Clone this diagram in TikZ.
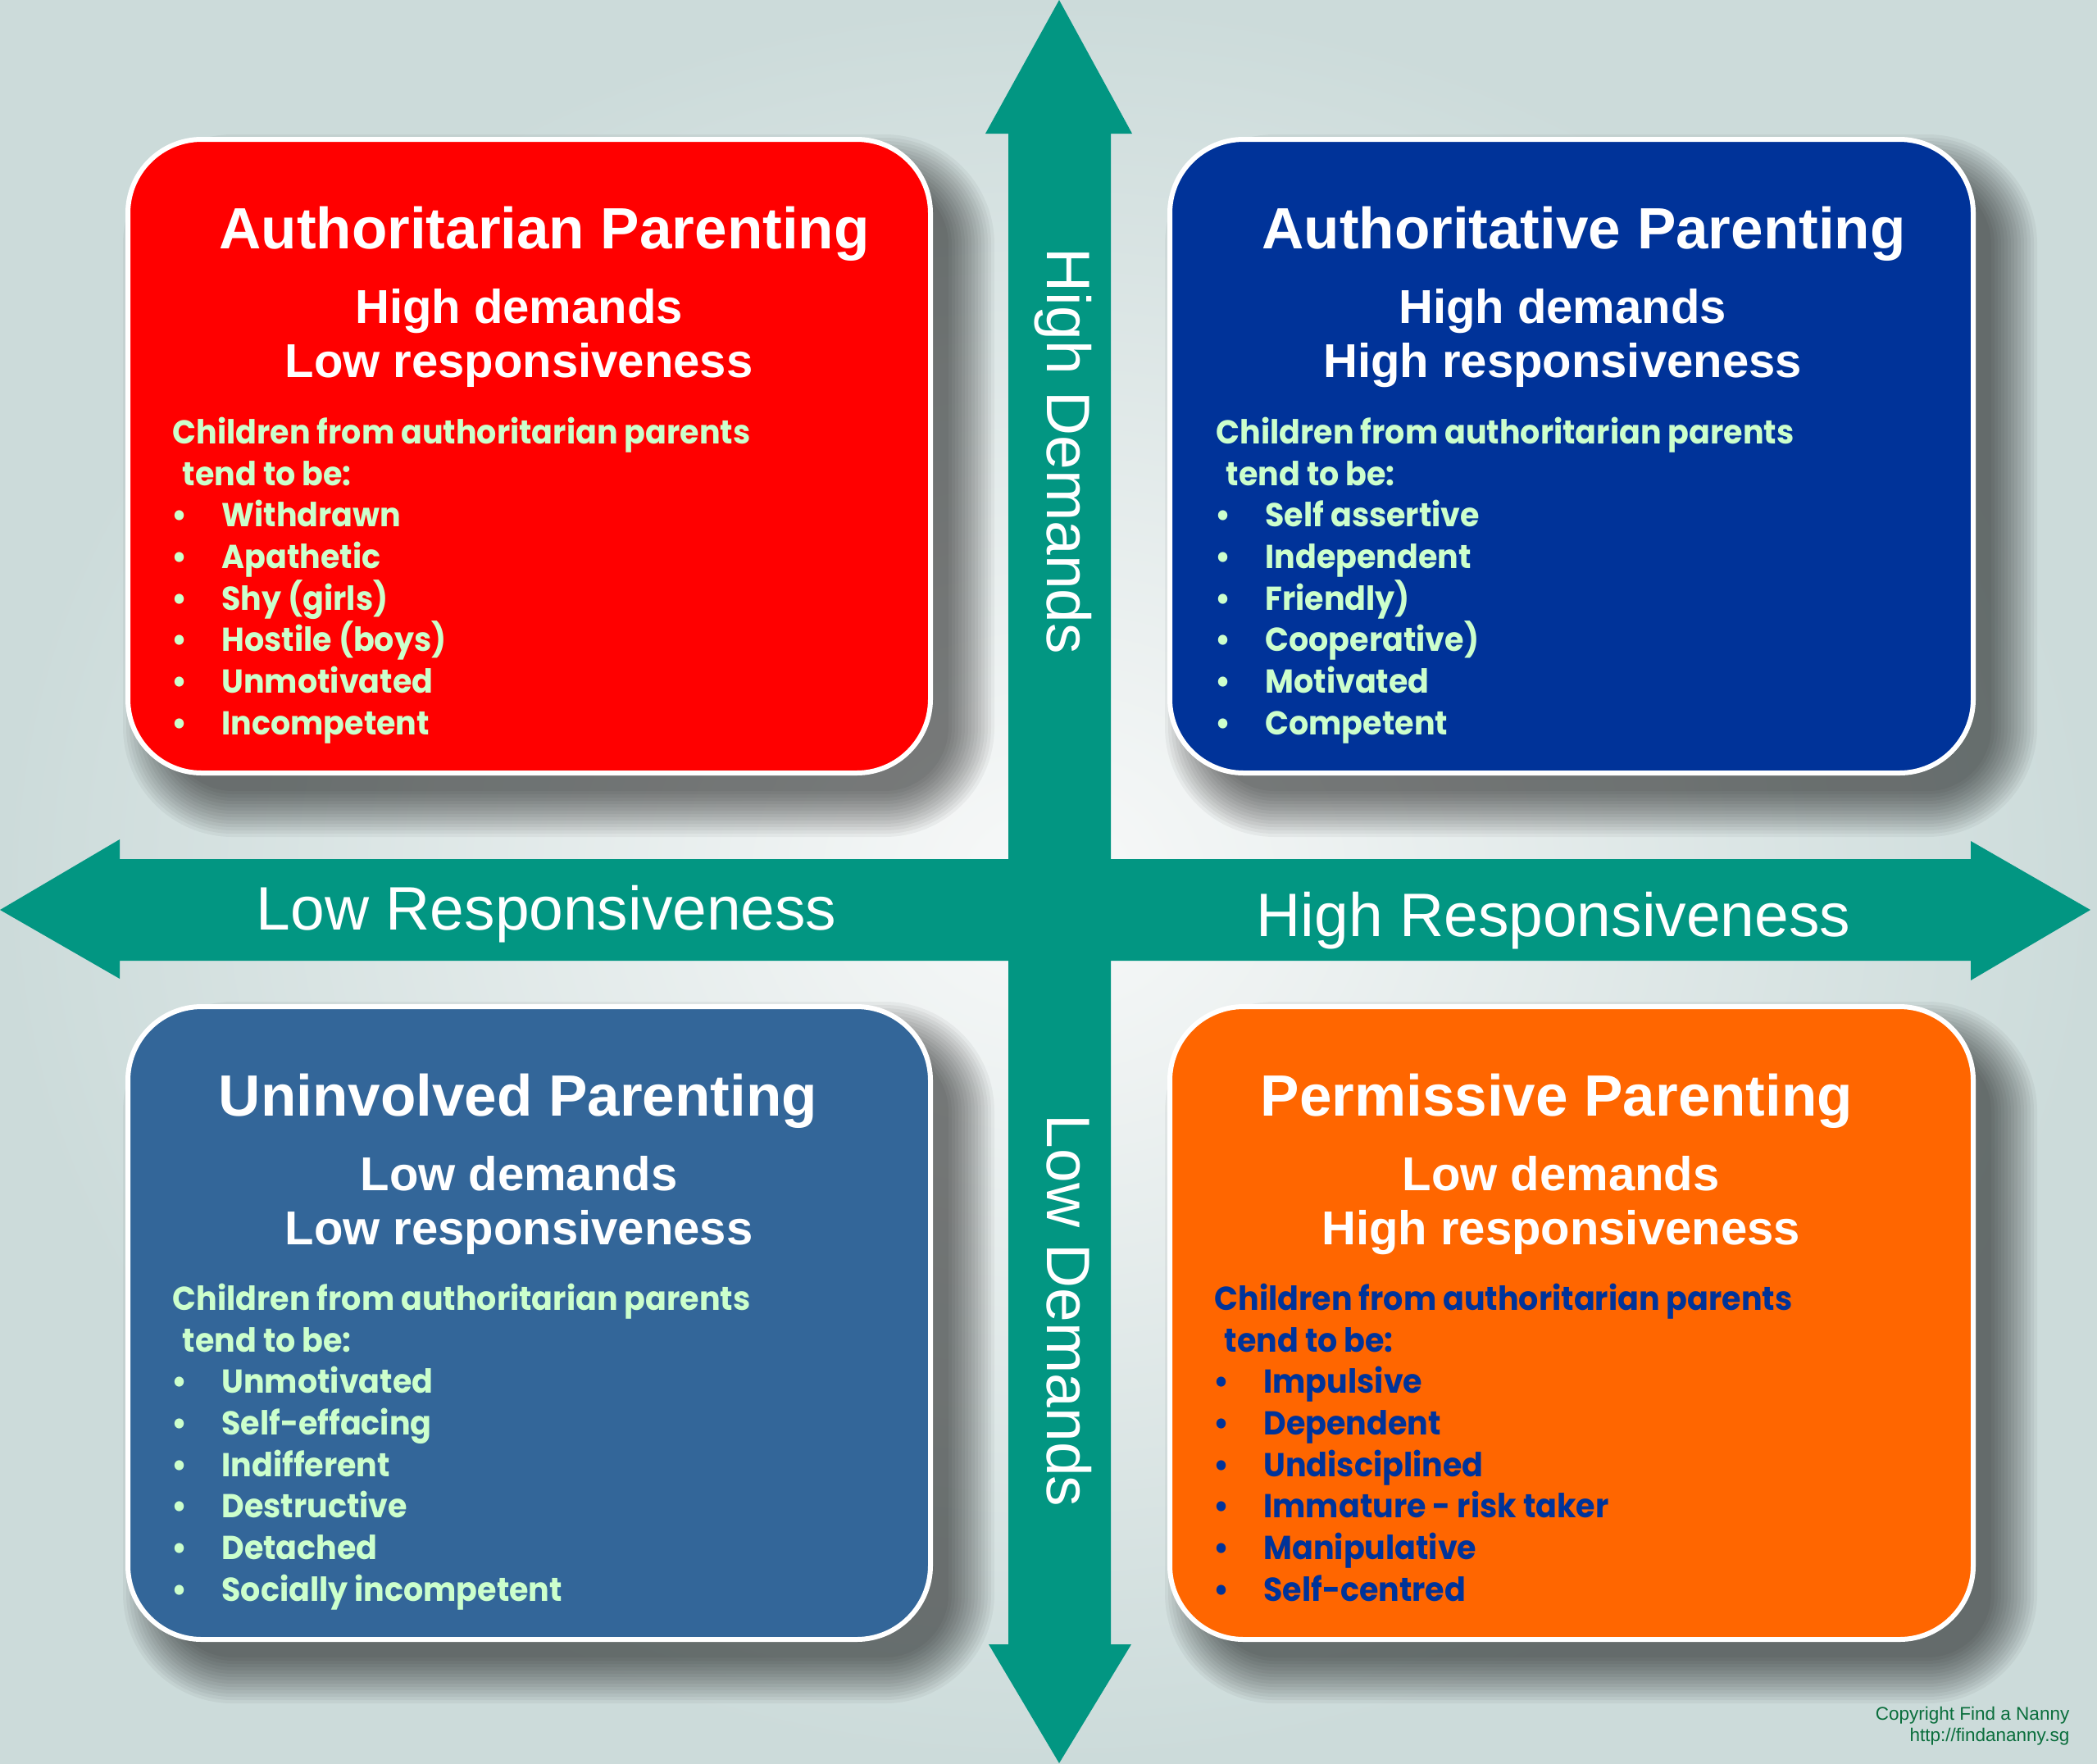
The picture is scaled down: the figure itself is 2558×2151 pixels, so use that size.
\documentclass[tikz,border=0pt]{standalone}
\usepackage{fontspec}
\setmainfont{Liberation Sans}
\newfontfamily\gothic{Poppins}[FakeStretch=0.94]

\definecolor{axisgreen}{RGB}{2,150,130}
\definecolor{boxred}{RGB}{255,0,0}
\definecolor{boxnavy}{RGB}{0,51,153}
\definecolor{boxsteel}{RGB}{51,102,153}
\definecolor{boxorange}{RGB}{255,102,0}
\definecolor{mint}{RGB}{204,255,204}
\definecolor{bgedge}{RGB}{204,219,218}
\definecolor{bgmid}{RGB}{248,249,249}
\definecolor{credit}{RGB}{10,110,60}

\newcommand{\trait}[1]{\\\hspace*{-0.3pt}\makebox[17.3pt][l]{\textbullet}#1}

\tikzset{
  quadbox/.style={draw=white, line width=0.06cm, rounded corners=0.9cm},
  headline/.style={font=\fontsize{20.2}{24}\selectfont\bfseries, text=white, anchor=base, inner sep=0},
  subline/.style={font=\fontsize{16.5}{18.5}\selectfont\bfseries, text=white, align=center, anchor=base, inner sep=0},
  traits/.style={font=\gothic\fontsize{11.5}{14.4}\selectfont\bfseries, align=left, anchor=base west, inner sep=0},
  axislabel/.style={font=\fontsize{21.3}{25}\selectfont, text=white, anchor=base west, inner sep=0}
}

\begin{document}
\begin{tikzpicture}[x=0.01cm, y=-0.01cm]
\shade[inner color=bgmid, outer color=bgedge] (0,0) rectangle (2558,2151);
\useasboundingbox (0,0) rectangle (2558,2151);

% soft shadows
\foreach \xa/\ya/\xb/\yb in {156/170/1135/943, 1427/170/2407/943, 156/1228/1135/2000, 1427/1228/2407/2000}{
  \foreach \e in {0,4,...,56}{
    \pgfmathsetmacro{\rr}{(78+\e)/100}
    \fill[black, opacity=0.042, rounded corners=\rr cm] (\xa+50-\e,\ya+50-\e) rectangle (\xb+22+\e,\yb+22+\e);
  }
}

% axes
\fill[axisgreen] (1292,0) -- (1381,163) -- (1355,163) -- (1355,1048) -- (2404,1048) -- (2404,1026)
  -- (2550,1110) -- (2404,1196) -- (2404,1172) -- (1355,1172) -- (1355,2006) -- (1380,2006)
  -- (1292,2151) -- (1206,2006) -- (1230,2006) -- (1230,1172) -- (146,1172) -- (146,1194)
  -- (0,1110) -- (146,1024) -- (146,1048) -- (1230,1048) -- (1230,163) -- (1202,163) -- cycle;

\node[axislabel] (lowresp) at (312,1134) {Low Responsiveness};
\node[axislabel] (highresp) at (1532,1142) {High Responsiveness};
\node[axislabel, rotate=-90] (highdem) at (1277,302) {High Demands};
\node[axislabel, rotate=-90] (lowdem) at (1277,1359) {Low Demands};

% quadrants
\draw[quadbox, fill=boxred] (156,170) rectangle (1135,943);
\draw[quadbox, fill=boxnavy] (1427,170) rectangle (2407,943);
\draw[quadbox, fill=boxsteel] (156,1228) rectangle (1135,2000);
\draw[quadbox, fill=boxorange] (1427,1228) rectangle (2407,2000);

% texts (multi-line nodes sit on the baseline of their last line)
\node[headline] (authtitle) at (664,303) {Authoritarian Parenting};
\node[subline] (authsub) at (633,460) {High demands\\Low responsiveness};
\node[traits, text=mint] (authkids) at (210,896) {Children from authoritarian parents\\\hspace*{3.4pt}tend to be:%
  \trait{Withdrawn}\trait{Apathetic}\trait{Shy (girls)}\trait{Hostile (boys)}\trait{Unmotivated}\trait{Incompetent}};

\node[headline] (ativetitle) at (1932,303) {Authoritative Parenting};
\node[subline] (ativesub) at (1906,460) {High demands\\High responsiveness};
\node[traits, text=mint] (ativekids) at (1483,896) {Children from authoritarian parents\\\hspace*{3.4pt}tend to be:%
  \trait{Self assertive}\trait{Independent}\trait{Friendly)}\trait{Cooperative)}\trait{Motivated}\trait{Competent}};

\node[headline] (uninvtitle) at (632,1361) {Uninvolved Parenting};
\node[subline] (uninvsub) at (633,1518) {Low demands\\Low responsiveness};
\node[traits, text=mint] (uninvkids) at (210,1953) {Children from authoritarian parents\\\hspace*{3.4pt}tend to be:%
  \trait{Unmotivated}\trait{Self-effacing}\trait{Indifferent}\trait{Destructive}\trait{Detached}\trait{Socially incompetent}};

\node[headline] (permtitle) at (1899,1361) {Permissive Parenting};
\node[subline] (permsub) at (1904,1518) {Low demands\\High responsiveness};
\node[traits, text=boxnavy] (permkids) at (1481,1953) {Children from authoritarian parents\\\hspace*{3.4pt}tend to be:%
  \trait{Impulsive}\trait{Dependent}\trait{Undisciplined}\trait{Immature - risk taker}\trait{Manipulative}\trait{Self-centred}};

\node[font=\fontsize{6.4}{7.4}\selectfont, text=credit, align=right, anchor=base east, inner sep=0] (credits) at (2525,2124) {Copyright Find a Nanny\\http://findananny.sg};
\end{tikzpicture}
\end{document}
